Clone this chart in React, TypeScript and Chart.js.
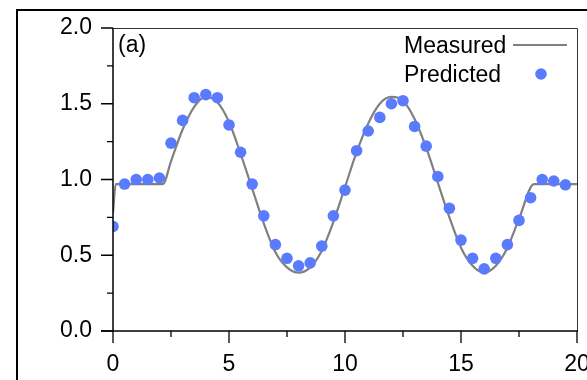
import React, { useEffect, useRef } from "react";
import { Chart, registerables } from "chart.js";

Chart.register(...registerables);

const predictedX = [0, 0.5, 1, 1.5, 2, 2.5, 3, 3.5, 4, 4.5, 5, 5.5, 6, 6.5, 7, 7.5, 8, 8.5, 9, 9.5, 10, 10.5, 11, 11.5, 12, 12.5, 13, 13.5, 14, 14.5, 15, 15.5, 16, 16.5, 17, 17.5, 18, 18.5, 19, 19.5];
const predictedY = [0.69, 0.97, 1.0, 1.0, 1.01, 1.24, 1.39, 1.54, 1.56, 1.54, 1.36, 1.18, 0.97, 0.76, 0.57, 0.48, 0.43, 0.45, 0.56, 0.76, 0.93, 1.19, 1.32, 1.41, 1.50, 1.52, 1.35, 1.22, 1.02, 0.81, 0.60, 0.48, 0.41, 0.48, 0.57, 0.73, 0.88, 1.0, 0.99, 0.965];

const measuredX = [0, 0.12, 2.15, 2.5, 3, 3.5, 4, 4.5, 5, 5.5, 6, 6.5, 7, 7.5, 8, 8.5, 9, 9.5, 10, 10.5, 11, 11.5, 12, 12.5, 13, 13.5, 14, 14.5, 15, 15.5, 16, 16.5, 17, 17.5, 18.15, 20];
const measuredY = [0.78, 0.97, 0.97, 1.12, 1.33, 1.48, 1.545, 1.51, 1.38, 1.17, 0.94, 0.71, 0.52, 0.42, 0.385, 0.42, 0.53, 0.72, 0.95, 1.18, 1.37, 1.50, 1.545, 1.52, 1.40, 1.21, 0.98, 0.75, 0.55, 0.43, 0.385, 0.43, 0.55, 0.74, 0.97, 0.97];

const xMajor = [0, 5, 10, 15, 20];
const xMinor = [2.5, 7.5, 12.5, 17.5];
const yMajor = [0, 0.5, 1.0, 1.5, 2.0];
const yMinor = [0.25, 0.75, 1.25, 1.75];

const FONT = "'Liberation Sans', Arial, sans-serif";
const FS = 23;

const framePlugin = {
  id: "frame",
  afterDraw(chart: any) {
    const { ctx, chartArea } = chart;
    const xs = chart.scales.x;
    const ys = chart.scales.y;
    const L = chartArea.left, R = chartArea.right, T = chartArea.top, B = chartArea.bottom;
    ctx.save();
    // outer frame
    ctx.strokeStyle = "#000";
    ctx.lineWidth = 2;
    ctx.strokeRect(17, 10, 800, 600);
    // plot box top & right
    ctx.lineWidth = 1;
    ctx.strokeStyle = "#333";
    ctx.beginPath();
    ctx.moveTo(L, T + 0.5);
    ctx.lineTo(R + 0.5, T + 0.5);
    ctx.lineTo(R + 0.5, B);
    ctx.stroke();
    // axes
    ctx.strokeStyle = "#000";
    ctx.lineWidth = 1.5;
    ctx.beginPath();
    ctx.moveTo(L, T);
    ctx.lineTo(L, B);
    ctx.moveTo(L - 12, B);
    ctx.lineTo(R + 1, B);
    ctx.stroke();
    // ticks
    ctx.lineWidth = 1.3;
    ctx.beginPath();
    yMajor.forEach((v) => {
      const p = ys.getPixelForValue(v);
      ctx.moveTo(L - 12, p);
      ctx.lineTo(L, p);
    });
    yMinor.forEach((v) => {
      const p = ys.getPixelForValue(v);
      ctx.moveTo(L - 6, p);
      ctx.lineTo(L, p);
    });
    xMajor.forEach((v) => {
      const p = xs.getPixelForValue(v);
      ctx.moveTo(p, B);
      ctx.lineTo(p, B + 12);
    });
    xMinor.forEach((v) => {
      const p = xs.getPixelForValue(v);
      ctx.moveTo(p, B);
      ctx.lineTo(p, B + 6);
    });
    ctx.stroke();
    // panel label
    ctx.fillStyle = "#000";
    ctx.font = `${FS}px ${FONT}`;
    ctx.textAlign = "left";
    ctx.textBaseline = "alphabetic";
    ctx.fillText("(a)", L + 5, T + 24);
    // legend
    const ds = chart.data.datasets;
    const measured = ds.find((d: any) => d.label === "Measured");
    const predicted = ds.find((d: any) => d.label === "Predicted");
    ctx.fillText(measured.label, 404, 53);
    ctx.fillText(predicted.label, 404, 82);
    ctx.strokeStyle = measured.borderColor;
    ctx.lineWidth = measured.borderWidth;
    ctx.beginPath();
    ctx.moveTo(513, 45);
    ctx.lineTo(567, 45);
    ctx.stroke();
    ctx.fillStyle = predicted.backgroundColor;
    ctx.beginPath();
    ctx.arc(541, 74, predicted.pointRadius, 0, Math.PI * 2);
    ctx.fill();
    ctx.restore();
  },
};

export default function App() {
  const ref = useRef<HTMLCanvasElement>(null);
  useEffect(() => {
    document.body.style.margin = "0";
    const chart = new Chart(ref.current!, {
      type: "scatter",
      data: {
        datasets: [
          {
            label: "Predicted",
            data: predictedX.map((x, i) => ({ x, y: predictedY[i] })),
            backgroundColor: "#5B7BFE",
            borderWidth: 0,
            pointRadius: 5.8,
            pointHoverRadius: 5.8,
            order: 0,
          } as any,
          {
            label: "Measured",
            type: "line",
            data: measuredX.map((x, i) => ({ x, y: measuredY[i] })),
            borderColor: "#808080",
            borderWidth: 2.2,
            pointRadius: 0,
            cubicInterpolationMode: "monotone",
            fill: false,
            order: 1,
          } as any,
        ],
      },
      options: {
        responsive: true,
        maintainAspectRatio: false,
        animation: false,
        layout: { padding: { left: 0, top: 28, right: 10, bottom: 0 } },
        plugins: { legend: { display: false }, tooltip: { enabled: false } },
        scales: {
          x: {
            type: "linear",
            min: 0,
            max: 20,
            grid: { display: false, drawTicks: false, tickLength: 0 },
            border: { display: false },
            ticks: {
              stepSize: 5,
              color: "#000",
              font: { size: FS, family: FONT },
              padding: 20,
              maxRotation: 0,
              callback: (v: any) => String(v),
            },
            afterFit: (s: any) => {
              s.height = 49;
              s.paddingLeft = 0;
              s.paddingRight = 0;
            },
          },
          y: {
            type: "linear",
            min: 0,
            max: 2,
            grid: { display: false, drawTicks: false, tickLength: 0 },
            border: { display: false },
            ticks: {
              stepSize: 0.5,
              color: "#000",
              font: { size: FS, family: FONT },
              padding: 21,
              callback: (v: any) => Number(v).toFixed(1),
            },
            afterFit: (s: any) => {
              s.width = 113;
              s.paddingTop = 0;
              s.paddingBottom = 0;
            },
          },
        },
      },
      plugins: [framePlugin],
    });
    return () => chart.destroy();
  }, []);
  return (
    <div style={{ position: "fixed", left: 0, top: 0, width: 587, height: 380 }}>
      <canvas ref={ref} />
    </div>
  );
}
